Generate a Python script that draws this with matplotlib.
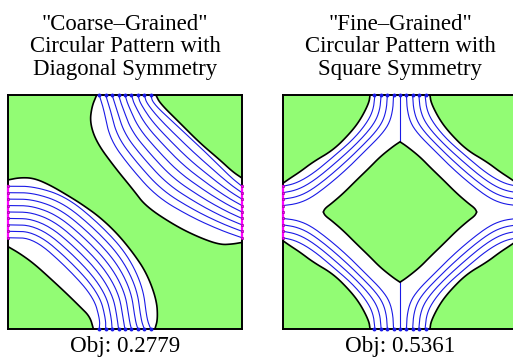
import numpy as np
import matplotlib.pyplot as plt

plt.rcParams['font.family'] = ['Liberation Serif', 'DejaVu Serif']

GREEN = '#92fc74'
BLUE = '#1a1ae6'
MAGENTA = '#ff00ff'

titles = ['"Coarse\u2013Grained"\nCircular Pattern with\nDiagonal Symmetry',
          '"Fine\u2013Grained"\nCircular Pattern with\nSquare Symmetry']
objectives = [0.2779, 0.5361]

# port positions (fraction of the side) where the guide lines meet the border
ports = [0.39, 0.4175, 0.445, 0.4725, 0.50, 0.5275, 0.555, 0.5825, 0.61]

# coarse pattern: boundaries of the two diagonal bands (u right, v down)
up_band_lo = [(.379, 0), (.358, .05), (.35, .12), (.38, .205), (.457, .31), (.535, .405),
              (.59, .477), (.717, .56), (.82, .61), (.906, .64), (.96, .637), (1, .63)]
up_band_hi = [(.632, 0), (.65, .036), (.735, .12), (.82, .205), (.906, .278), (.96, .328), (1, .355)]
lo_band_hi = [(0, .363), (.05, .353), (.11, .355), (.18, .385), (.265, .435), (.32, .47), (.39, .52),
              (.465, .59), (.535, .675), (.593, .762), (.635, .875), (.64, .957), (.628, 1)]
lo_band_lo = [(0, .648), (.05, .677), (.11, .72), (.18, .783), (.25, .848), (.308, .905),
              (.35, .947), (.365, 1)]
# outermost guide lines of each band
up_line_a = [(.39, 0), (.41, .064), (.436, .19), (.52, .306), (.635, .435), (.78, .52), (.906, .577), (1, .61)]
up_line_b = [(.61, 0), (.62, .036), (.71, .12), (.85, .25), (.95, .35), (1, .39)]
lo_line_a = [(0, .39), (.11, .39), (.25, .435), (.39, .55), (.507, .676), (.577, .82), (.593, .957), (.61, 1)]
lo_line_b = [(0, .61), (.11, .612), (.25, .735), (.365, .862), (.393, .96), (.39, 1)]

# fine pattern: top-left quarter, mirrored into the other three
corner_edge = [(.372, 0), (.367, .035), (.33, .107), (.286, .164), (.215, .235), (.13, .285),
               (.073, .328), (.03, .356), (0, .377)]
diamond_edge = [(.5, .2), (.47, .22), (.415, .264), (.37, .31), (.315, .363), (.258, .42),
                (.208, .463), (.18, .484), (.172, .5)]
quad_line_a = [(.393, 0), (.386, .064), (.358, .12), (.3, .19), (.215, .264), (.13, .335), (.058, .377), (0, .39)]
quad_line_b = [(.4725, 0), (.47, .06), (.455, .12), (.42, .17), (.36, .23), (.28, .31), (.2, .38),
               (.12, .44), (.06, .465), (0, .4725)]


def smooth(pts, n=3):
    p = np.asarray(pts, float)
    for _ in range(n):
        q = 0.75 * p[:-1] + 0.25 * p[1:]
        r = 0.25 * p[:-1] + 0.75 * p[1:]
        mid = np.empty((2 * len(q), 2))
        mid[0::2] = q
        mid[1::2] = r
        p = np.vstack([p[:1], mid, p[-1:]])
    return p


def resample(p, n=200):
    d = np.r_[0, np.cumsum(np.hypot(*np.diff(p, axis=0).T))]
    s = np.linspace(0, d[-1], n)
    return np.column_stack([np.interp(s, d, p[:, 0]), np.interp(s, d, p[:, 1])])


def guide_lines(a, b, count):
    a = resample(smooth(a))
    b = resample(smooth(b))
    return [(1 - t) * a + t * b for t in np.linspace(0, 1, count)]


def mirror(p, fx, fy):
    p = np.asarray(p, float).copy()
    if fx:
        p[:, 0] = 1 - p[:, 0]
    if fy:
        p[:, 1] = 1 - p[:, 1]
    return p


def ports_on(ax, side, color):
    if side in ('top', 'bottom'):
        y = 0 if side == 'top' else 1
        ax.plot(ports, [y] * len(ports), 'o', ms=1.8, color=color, clip_on=False, zorder=6)
    else:
        x = 0 if side == 'left' else 1
        ax.plot([x, x], [ports[0], ports[-1]], color=color, lw=1.6, clip_on=False, zorder=6)
        ax.plot([x] * len(ports), ports, 's', ms=2.0, mfc='none', mec='#b000b0', mew=0.6,
                clip_on=False, zorder=7)


fig = plt.figure(figsize=(5.13, 3.59), dpi=100)
w, h = 234 / 513, 234 / 359
ax1 = fig.add_axes([8 / 513, 30 / 359, w, h])
ax2 = fig.add_axes([283 / 513, 30 / 359, w, h])

for ax in (ax1, ax2):
    ax.set_xlim(0, 1)
    ax.set_ylim(1, 0)
    ax.set_xticks([])
    ax.set_yticks([])
    for sp in ax.spines.values():
        sp.set_linewidth(1.4)
        sp.set_zorder(5)

# coarse-grained pattern
ax1.set_facecolor(GREEN)
for lo, hi in [(up_band_lo, up_band_hi), (lo_band_hi, lo_band_lo)]:
    a, b = smooth(lo), smooth(hi)
    poly = np.vstack([a, b[::-1]])
    ax1.fill(poly[:, 0], poly[:, 1], color='white', lw=0, zorder=1)
    ax1.plot(a[:, 0], a[:, 1], color='black', lw=1.2, zorder=3)
    ax1.plot(b[:, 0], b[:, 1], color='black', lw=1.2, zorder=3)
for la, lb in [(up_line_a, up_line_b), (lo_line_a, lo_line_b)]:
    for line in guide_lines(la, lb, 9):
        ax1.plot(line[:, 0], line[:, 1], color=BLUE, lw=0.8, zorder=2)
for side, col in [('top', BLUE), ('bottom', BLUE), ('left', MAGENTA), ('right', MAGENTA)]:
    ports_on(ax1, side, col)

# fine-grained pattern
ax2.set_facecolor('white')
corner = np.vstack([[(0, 0)], smooth(corner_edge)])
q = smooth(diamond_edge)
diamond = np.vstack([q, mirror(q[::-1], False, True), mirror(q, True, True), mirror(q[::-1], True, False)])
ax2.fill(diamond[:, 0], diamond[:, 1], color=GREEN, ec='black', lw=1.2, zorder=3)
quad_lines = guide_lines(quad_line_a, quad_line_b, 4)
for fx in (False, True):
    for fy in (False, True):
        c = mirror(corner, fx, fy)
        ax2.fill(c[:, 0], c[:, 1], color=GREEN, lw=0, zorder=1)
        ax2.plot(c[1:, 0], c[1:, 1], color='black', lw=1.2, zorder=3)
        for line in quad_lines:
            m = mirror(line, fx, fy)
            ax2.plot(m[:, 0], m[:, 1], color=BLUE, lw=0.8, zorder=2)
ax2.plot([.5, .5], [0, .2], color=BLUE, lw=0.8, zorder=2)
ax2.plot([.5, .5], [.8, 1], color=BLUE, lw=0.8, zorder=2)
for side, col in [('top', BLUE), ('bottom', BLUE), ('left', MAGENTA), ('right', MAGENTA)]:
    ports_on(ax2, side, col)

for ax, title, obj in zip((ax1, ax2), titles, objectives):
    ax.text(0.5, 1.066, title, transform=ax.transAxes, ha='center', va='bottom',
            fontsize=16.4, linespacing=1.08)
    ax.text(0.5, -0.03, f'Obj: {obj:.4f}', transform=ax.transAxes, ha='center', va='top',
            fontsize=16.6)

fig.savefig('out.png', dpi=100)
